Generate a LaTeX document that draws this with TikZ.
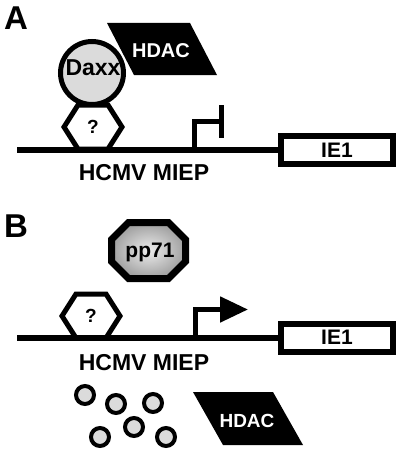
\documentclass[tikz,border=0pt]{standalone}
\usepackage{fontspec}
\setmainfont{Liberation Sans}
\usetikzlibrary{arrows.meta}
\definecolor{protgray}{gray}{0.86}

\begin{document}
\begin{tikzpicture}
  [
    x=1pt, y=-1pt,
    every node/.style={inner sep=0pt, font=\bfseries},
    panel/.style={anchor=base west, font=\bfseries\fontsize{33}{33}\selectfont},
    big/.style={anchor=base, font=\bfseries\fontsize{23}{23}\selectfont},
    qmark/.style={font=\bfseries\fontsize{19}{19}\selectfont},
    hdac/.style={fill=black},
    hdactxt/.style={anchor=base, text=white, font=\bfseries\fontsize{20}{20}\selectfont},
    dna/.style={line width=6pt},
    prom/.style={line width=5pt},
    gene/.style={draw, line width=6pt, fill=white, minimum width=112pt,
      minimum height=28pt, font=\bfseries\fontsize{21}{21}\selectfont},
    hexa/.style={draw, line width=5pt, fill=white},
    bead/.style={circle, draw, line width=4pt, fill=protgray, minimum size=18pt}
  ]
  \useasboundingbox (0,0) rectangle (400,452);

  % panel A
  \node[panel] (labA) at (4,30) {A};
  \fill[hdac] (107,23) -- (190,23) -- (217,75) -- (134,75) -- cycle;
  \node[hdactxt] (hdacA) at (161,57) {HDAC};
  \node[circle, draw, line width=5pt, fill=protgray, minimum size=63pt] (daxx) at (92,73) {};
  \node[big] (daxxtxt) at (93,75) {Daxx};
  \begin{scope}[shift={(93,127)}]
    \draw[hexa] (-29,0) -- (-15,-22) -- (15,-22) -- (29,0) -- (15,22) -- (-15,22) -- cycle;
    \node[qmark] (qA) at (0,0) {?};
  \end{scope}
  \node[gene] (ieA) at (337,150) {IE1};
  \coordinate (dnaA) at (17,150);
  \draw[dna] (dnaA) -- (ieA.west);
  \draw[prom] (194.5,150) |- (221.5,121);
  \draw[prom] (221.5,105) -- (221.5,138);
  \node[big] (miepA) at (144,180) {HCMV MIEP};

  % panel B
  \node[panel] (labB) at (4,237) {B};
  \begin{scope}[shift={(148.5,250.5)}]
    \shadedraw[line width=7pt, inner color=gray!15, outer color=gray!75]
      (-37,-11) -- (-20,-28) -- (20,-28) -- (37,-11) -- (37,11) -- (20,28)
      -- (-20,28) -- (-37,11) -- cycle;
  \end{scope}
  \node[anchor=base, font=\bfseries\fontsize{21}{21}\selectfont] (pp71) at (150,257) {pp71};
  \begin{scope}[shift={(91,316)}]
    \draw[hexa] (-29,0) -- (-15,-22) -- (15,-22) -- (29,0) -- (15,22) -- (-15,22) -- cycle;
    \node[qmark] (qB) at (0,0) {?};
  \end{scope}
  \node[gene] (ieB) at (337,337.5) {IE1};
  \coordinate (dnaB) at (17,337.5);
  \draw[dna] (dnaB) -- (ieB.west);
  \draw[prom, -{Triangle[length=28pt, width=25pt]}] (195.5,337.5) |- (248,309.5);
  \node[big] (miepB) at (144,370) {HCMV MIEP};

  \foreach \cx/\cy [count=\i] in {85/395, 116/404, 153/403, 134/427, 100/437, 166/437}
    \node[bead] (bead\i) at (\cx,\cy) {};
  \fill[hdac] (193,392) -- (273,392) -- (303,445) -- (223,445) -- cycle;
  \node[hdactxt, font=\bfseries\fontsize{19}{19}\selectfont] (hdacB) at (247,427) {HDAC};
\end{tikzpicture}
\end{document}
